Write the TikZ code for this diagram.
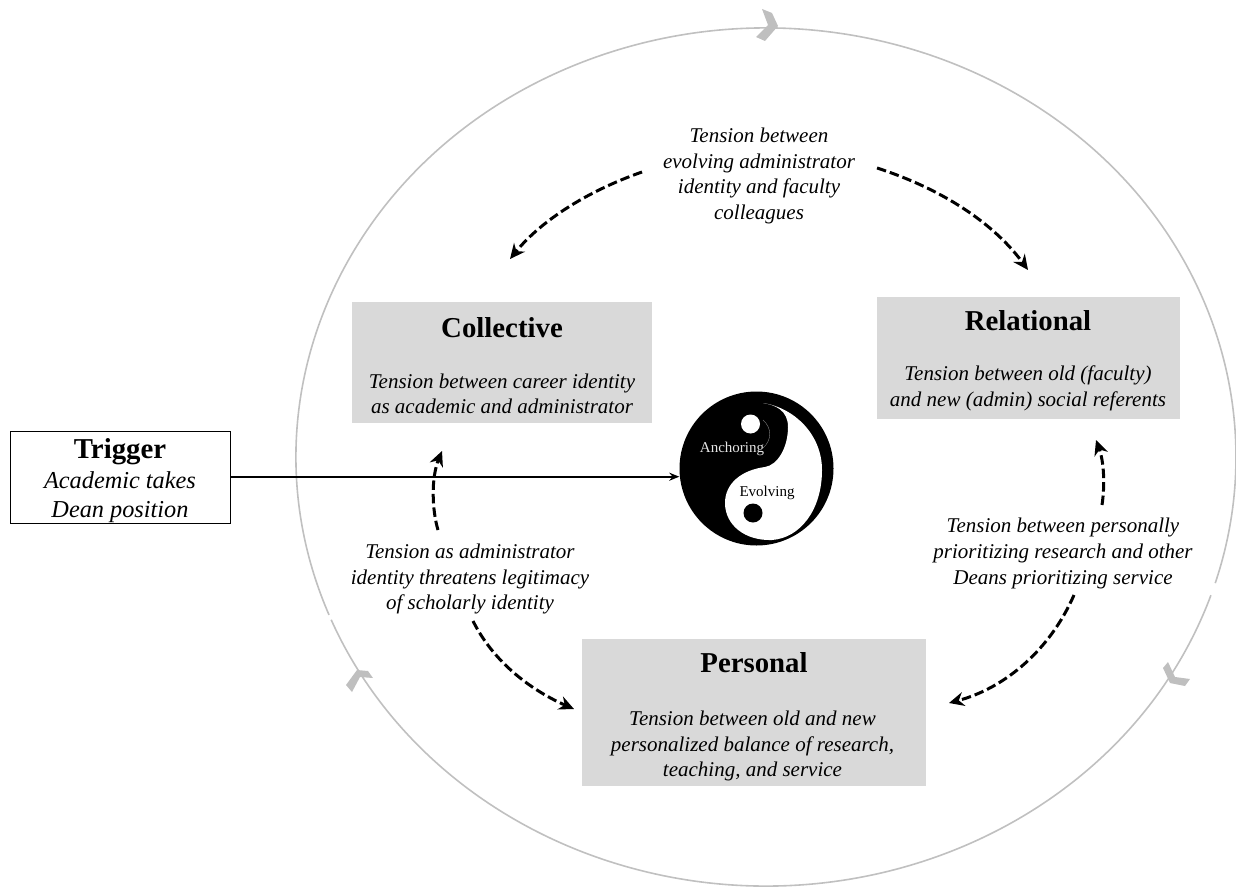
\documentclass[tikz,border=0pt]{standalone}
\usepackage{fontspec}
\setmainfont{Liberation Serif}
\usetikzlibrary{arrows.meta}
\tikzset{
  panelfill/.style={fill=boxgray,draw=none},
  titletext/.style={font=\fontsize{28.8}{32}\selectfont\bfseries,inner sep=0pt,anchor=base},
  bodytext/.style={font=\fontsize{21}{25.6}\selectfont\itshape,align=center,inner sep=0pt},
  triggertext/.style={font=\fontsize{24.3}{29.5}\selectfont\itshape,align=center,inner sep=0pt},
  yytext/.style={font=\fontsize{15}{18}\selectfont,inner sep=0pt},
  dasharrow/.style={draw=black,line width=3pt,dash pattern=on 9.5pt off 4pt,-{Stealth[length=15pt,width=14pt]}},
  chevfill/.style={fill=chevgray,draw=none},
  ringline/.style={draw=ringgray,line width=1.6pt},
}
\definecolor{boxgray}{HTML}{D9D9D9}
\definecolor{chevgray}{HTML}{BFBFBF}
\definecolor{ringgray}{HTML}{C0C0C0}
\begin{document}
\begin{tikzpicture}[x=1pt,y=-1pt]
\useasboundingbox (0,0) rectangle (1236,888);
% ring
\draw[ringline] (766,457) ++(18.8:470 and 429) arc[start angle=18.8,end angle=157.7,x radius=470,y radius=429];
\draw[ringline] (766,457) ++(158.4:470 and 429) arc[start angle=158.4,end angle=377.1,x radius=470,y radius=429];
% chevrons
\fill[chevfill] (762,9)--(772,13)--(778,26)--(765,41)--(756,37)--(768,25)--cycle;
\fill[chevfill] (1168,662)--(1175,677)--(1190,679)--(1185,686)--(1170,683)--(1163,668)--cycle;
\fill[chevfill] (357,670)--(368,671)--(373,678)--(360,677)--(352,692)--(346,685)--cycle;
% panels
\path[panelfill] (352,302) rectangle (652,423);
\path[panelfill] (877,297) rectangle (1180,419);
\path[panelfill] (582,639) rectangle (926,786);
\node[titletext] (coll) at (502,337) {Collective};
\node[bodytext] (collb) at (502,394) {Tension between career identity\\as academic and administrator};
\node[titletext] (rel) at (1028,330.5) {Relational};
\node[bodytext] (relb) at (1028,388.5) {Tension between old (faculty)\\and new (admin) social referents};
\node[titletext] (pers) at (754,672) {Personal};
\node[bodytext] (persb) at (752.5,746) {Tension between old and new\\personalized balance of research,\\teaching, and service};
% trigger
\node[draw=black,line width=0.9pt,fill=white,minimum width=220pt,minimum height=92pt,inner sep=0pt] (trig) at (120,477) {};
\node[titletext] (trigt) at (120,458) {Trigger};
\node[triggertext] (trigb) at (120,497) {Academic takes\\Dean position};
% yin yang
\node[circle,fill=black,minimum size=154pt,inner sep=0pt] (yy) at (756.5,468.5) {};
\fill[white] (763,403) .. controls (795,408) and (822,435) .. (822,470)
  .. controls (822,510) and (800,538) .. (772,540)
  .. controls (745,541) and (725,525) .. (725,503)
  .. controls (725,483) and (742,470) .. (765,467)
  .. controls (778,465) and (788,447) .. (788,427)
  .. controls (788,410) and (775,405) .. (763,403) -- cycle;
\fill[white] (750.5,424) circle[radius=9.5];
\fill[black] (753,513) circle[radius=9.5];
\draw[gray,line width=0.4pt] (763,420) .. controls (772,428) and (772,440) .. (763,448);
\node[yytext,text=white!90!black] (anch) at (732,449) {Anchoring};
\node[yytext,text=black] (evol) at (767,493) {Evolving};
% tension labels
\node[bodytext] (t1) at (759,176) {Tension between\\evolving administrator\\identity and faculty\\colleagues};
\node[bodytext] (t2) at (470,579) {Tension as administrator\\identity threatens legitimacy\\of scholarly identity};
\node[bodytext] (t3) at (1063,553.5) {Tension between personally\\prioritizing research and other\\Deans prioritizing service};
% connectors
\draw[-{Stealth[length=10pt,width=8pt]},line width=1.7pt] (trig.east |- 0,476.7) -- (yy.west |- 0,476.7);
\coordinate (a1) at (642,172); \coordinate (a2) at (510,259);
\coordinate (b1) at (877,168); \coordinate (b2) at (1028,270);
\coordinate (c1) at (438,530); \coordinate (c2) at (442,451);
\coordinate (d1) at (473,621); \coordinate (d2) at (574,709);
\coordinate (e1) at (1102,505); \coordinate (e2) at (1096,440);
\coordinate (f1) at (1074,595); \coordinate (f2) at (949,703);
\draw[dasharrow] (a1) .. controls (585,192) and (540,222) .. (a2);
\draw[dasharrow] (b1) .. controls (945,190) and (995,225) .. (b2);
\draw[dasharrow] (c1) .. controls (432,510) and (431,478) .. (c2);
\draw[dasharrow] (d1) .. controls (495,665) and (535,692) .. (d2);
\draw[dasharrow] (e1) .. controls (1105,485) and (1104,462) .. (e2);
\draw[dasharrow] (f1) .. controls (1050,650) and (1005,688) .. (f2);
\end{tikzpicture}
\end{document}
